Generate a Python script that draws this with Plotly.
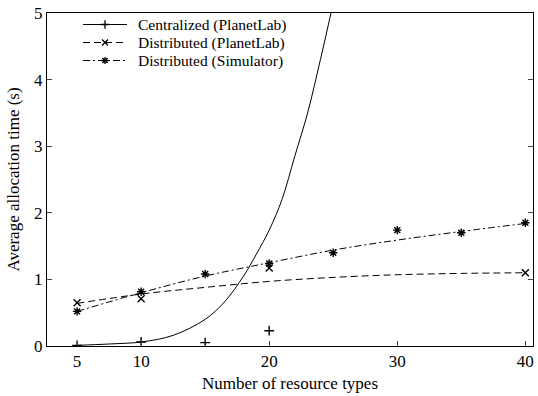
import plotly.graph_objects as go

# Measured points
cent_x = [5, 10, 15, 20]
cent_y = [0.01, 0.06, 0.05, 0.23]
dpl_x = [5, 10, 20, 40]
dpl_y = [0.65, 0.71, 1.17, 1.10]
sim_x = [5, 10, 15, 20, 25, 30, 35, 40]
sim_y = [0.52, 0.815, 1.08, 1.24, 1.40, 1.74, 1.70, 1.85]

# Fitted curves
cent_fit_x = [5, 7.5, 10, 12.5, 15, 16.5, 18, 19, 20, 21, 22, 23, 24, 25]
cent_fit_y = [0.01, 0.03, 0.06, 0.16, 0.40, 0.66, 1.05, 1.38, 1.74, 2.2, 2.85, 3.5, 4.3, 5.15]
dpl_fit_x = [5, 10, 15, 20, 25, 30, 35, 40]
dpl_fit_y = [0.64, 0.78, 0.88, 0.97, 1.03, 1.07, 1.09, 1.10]
sim_fit_x = [5, 10, 15, 20, 25, 30, 35, 40]
sim_fit_y = [0.52, 0.80, 1.05, 1.25, 1.44, 1.59, 1.72, 1.84]

x_ticks = [5, 10, 20, 30, 40]
y_ticks = [0, 1, 2, 3, 4, 5]

names = ["Centralized (PlanetLab)", "Distributed (PlanetLab)", "Distributed (Simulator)"]
dashes = ["solid", "7px,4px", "7px,3px,2px,3px"]
symbols = ["cross-thin-open", "x-thin-open", "asterisk-open"]
FONT = "Liberation Serif, Times New Roman, serif"

W, H = 538, 396
ML, MR, MT, MB = 47, 5, 13, 50
PW, PH = W - ML - MR, H - MT - MB

fig = go.Figure()
series = [
    (cent_x, cent_y, cent_fit_x, cent_fit_y),
    (dpl_x, dpl_y, dpl_fit_x, dpl_fit_y),
    (sim_x, sim_y, sim_fit_x, sim_fit_y),
]
for i, (px_, py_, fx, fy) in enumerate(series):
    fig.add_trace(go.Scatter(x=fx, y=fy, mode="lines",
                             line=dict(color="black", width=1, dash=dashes[i], shape="spline"),
                             showlegend=False, hoverinfo="skip"))
    fig.add_trace(go.Scatter(x=px_, y=py_, mode="markers",
                             marker=dict(symbol=symbols[i], size=7, color="black",
                                         line=dict(color="black", width=1.4)),
                             showlegend=False))

# Hand-placed legend on an overlay axis measured in plot-area pixels
leg_rows = [11.5, 29.5, 47.5]
leg_x0, leg_x1, leg_text = 36, 80, 90
for i in range(3):
    fig.add_trace(go.Scatter(x=[leg_x0, leg_x1], y=[leg_rows[i]] * 2, xaxis="x2", yaxis="y2",
                             mode="lines", line=dict(color="black", width=1, dash=dashes[i]),
                             showlegend=False, hoverinfo="skip"))
    fig.add_trace(go.Scatter(x=[(leg_x0 + leg_x1) / 2], y=[leg_rows[i]], xaxis="x2", yaxis="y2",
                             mode="markers",
                             marker=dict(symbol=symbols[i], size=6, color="black",
                                         line=dict(color="black", width=1.3)),
                             showlegend=False, hoverinfo="skip"))
    fig.add_annotation(x=leg_text, y=leg_rows[i], xref="x2", yref="y2", text=names[i],
                       showarrow=False, xanchor="left", yanchor="middle", borderpad=0,
                       font=dict(family=FONT, size=15.5, color="black"))

fig.update_layout(
    width=W, height=H,
    margin=dict(l=ML, r=MR, t=MT, b=MB, autoexpand=False),
    plot_bgcolor="white", paper_bgcolor="white",
    font=dict(family=FONT, size=17, color="black"),
    showlegend=False,
    xaxis=dict(range=[2.65, 40.6], tickvals=x_ticks, ticks="inside", ticklen=5,
               showline=True, linecolor="black", linewidth=1, mirror=True, showgrid=False, zeroline=False,
               tickfont=dict(size=17), automargin=False,
               title=dict(text="Number of resource types", font=dict(size=17), standoff=6)),
    yaxis=dict(range=[0, 5], tickvals=y_ticks, ticks="inside", ticklen=5,
               showline=True, linecolor="black", linewidth=1, mirror="ticks", showgrid=False, zeroline=False,
               tickfont=dict(size=17), automargin=False,
               title=dict(text="Average allocation time (s)", font=dict(size=17), standoff=10)),
    xaxis2=dict(range=[0, PW], overlaying="x", visible=False, fixedrange=True),
    yaxis2=dict(range=[PH, 0], overlaying="y", visible=False, fixedrange=True),
)
fig.write_html("out.html", config={"displayModeBar": False},
               post_script="document.body.style.margin='0px';")
